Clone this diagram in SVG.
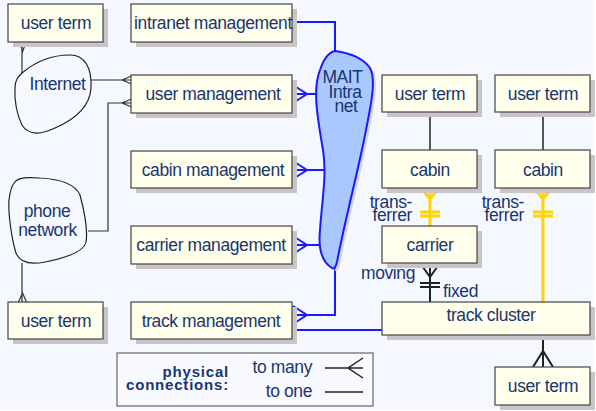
<svg xmlns="http://www.w3.org/2000/svg" width="596" height="411" viewBox="0 0 596 411">
<style>
.bx{fill:#ffffec;stroke:#444;stroke-width:1.2}
.sh{fill:#c8c4c8}
.t{font-family:"Liberation Sans",Arial,sans-serif;font-size:17.5px;letter-spacing:-0.4px;fill:#1a3570}
.m{text-anchor:middle}
.e{text-anchor:end}
.b{font-weight:bold;font-size:15px;letter-spacing:0.8px}
.k{fill:none;stroke:#333;stroke-width:1.2}
.k2{fill:none;stroke:#222;stroke-width:2}
.bl{fill:none;stroke:#1a1aff;stroke-width:2}
.y{fill:none;stroke:#ffd400;stroke-width:3}
.cl{fill:#f5f8ff;stroke:#222;stroke-width:1.2}
</style>
<rect x="0" y="0" width="596" height="411" fill="#ffffff"/>
<rect x="0" y="0" width="593" height="409" fill="#f5f8ff"/>

<g id="connectors">
  <path class="k" d="M22,42 V75 M20,42 L22.5,52 L26,42"/>
  <path class="k" d="M90,80 H131 M131.5,76 L122,80 L131.5,84"/>
  <path class="k" d="M88,231 H108 V103 H131 M131.5,99 L122,103 L131.5,107"/>
  <path class="k" d="M22,263 V302 M18.5,302 L22.5,293 L26.5,302"/>
  <path class="bl" d="M292,22 H335 V51"/>
  <path class="bl" d="M292,94 H316 M293,85 L307,94 L293,103"/>
  <path class="bl" d="M292,170 H325 M293,161 L307,170 L293,179"/>
  <path class="bl" d="M292,245 H320 M293,236 L307,245 L293,254"/>
  <path class="bl" d="M292,315 H335 V268 M293,306 L307,315 L293,324"/>
  <path class="bl" d="M292,330 H382"/>
  <path class="k" style="stroke:#222;stroke-width:1.5" d="M430,112 V150 M543,112 V150"/>
  <path class="y" d="M430,188 V226 M421,188 L430,199 L439,188 M420,212 H440 M420,216 H440"/>
  <path class="y" d="M543,188 V302 M534,188 L543,199 L552,188 M533,212 H553 M533,216 H553"/>
  <path class="k2" d="M430,263 V302 M420,263 L430,277 L440,263 M420,283 H440 M420,287 H440"/>
  <path class="k2" d="M543,335 V367 M533,367 L543,351 L553,367"/>
  <text class="t e" x="412" y="208">trans-</text>
  <text class="t e" x="412" y="221">ferrer</text>
  <text class="t e" x="524" y="208">trans-</text>
  <text class="t e" x="524" y="221">ferrer</text>
  <text class="t e" x="415" y="279">moving</text>
  <text class="t" x="443" y="297">fixed</text>
</g>

<g id="internet">
  <path class="cl" d="M22,73 C35,62 50,55 70,55 C85,55 92,68 91,88 C90,105 78,118 55,128 C40,135 28,135 22,125 C17,115 14,100 15,88 C15,80 18,77 22,73 Z"/>
  <text class="t m" x="57.5" y="90">Internet</text>
</g>
<g id="phone-network">
  <path class="cl" d="M14,183 C18,177 28,177 40,178 C60,179 75,184 80,195 C84,210 88,230 86,242 C84,252 65,258 45,262 C30,265 20,263 16,253 C12,240 8,215 9,200 C10,192 11,187 14,183 Z"/>
  <text class="t m" x="47" y="217">phone</text>
  <text class="t m" x="47.5" y="235.5">network</text>
</g>
<g id="mait-intranet">
  <path fill="#c8c4c8" opacity="0.7" transform="translate(3,3)" d="M335,51 C350,53 363,58 370,68 C377,80 370,110 364,140 C357,175 345,220 337,262 Q335,270 332,268 C322,262 318,250 320,230 C322,200 327,175 323,150 C318,120 312,90 320,70 C324,58 330,52 335,51 Z"/>
  <path fill="#a8c8ff" stroke="#1a1aff" stroke-width="2" d="M335,51 C350,53 363,58 370,68 C377,80 370,110 364,140 C357,175 345,220 337,262 Q335,270 332,268 C322,262 318,250 320,230 C322,200 327,175 323,150 C318,120 312,90 320,70 C324,58 330,52 335,51 Z"/>
  <text class="t m" x="342.5" y="83">MAIT</text>
  <text class="t m" x="345" y="98">Intra</text>
  <text class="t m" x="346" y="112">net</text>
</g>

<g id="user-term-1"><rect class="sh" x="13" y="9" width="95" height="38"/><rect class="bx" x="8" y="4" width="95" height="38"/><text class="t m" x="56" y="29">user term</text></g>
<g id="intranet-management"><rect class="sh" x="136" y="9" width="161" height="38"/><rect class="bx" x="131" y="4" width="161" height="38"/><text class="t m" x="213" y="29">intranet management</text></g>
<g id="user-management"><rect class="sh" x="136" y="80" width="161" height="38"/><rect class="bx" x="131" y="75" width="161" height="38"/><text class="t m" x="213" y="100">user management</text></g>
<g id="cabin-management"><rect class="sh" x="136" y="156" width="161" height="37"/><rect class="bx" x="131" y="151" width="161" height="37"/><text class="t m" x="213" y="175.5">cabin management</text></g>
<g id="carrier-management"><rect class="sh" x="136" y="231" width="161" height="38"/><rect class="bx" x="131" y="226" width="161" height="38"/><text class="t m" x="211" y="251">carrier management</text></g>
<g id="track-management"><rect class="sh" x="136" y="307" width="161" height="37"/><rect class="bx" x="131" y="302" width="161" height="37"/><text class="t m" x="211" y="326.5">track management</text></g>
<g id="user-term-2"><rect class="sh" x="13" y="307" width="95" height="37"/><rect class="bx" x="8" y="302" width="95" height="37"/><text class="t m" x="56" y="326.5">user term</text></g>

<g id="user-term-3"><rect class="sh" x="387" y="80" width="95" height="37"/><rect class="bx" x="382" y="75" width="95" height="37"/><text class="t m" x="430" y="99.5">user term</text></g>
<g id="user-term-4"><rect class="sh" x="500" y="80" width="95" height="37"/><rect class="bx" x="495" y="75" width="95" height="37"/><text class="t m" x="543" y="99.5">user term</text></g>
<g id="cabin-1"><rect class="sh" x="387" y="155" width="95" height="38"/><rect class="bx" x="382" y="150" width="95" height="38"/><text class="t m" x="430" y="175.5">cabin</text></g>
<g id="cabin-2"><rect class="sh" x="500" y="155" width="95" height="38"/><rect class="bx" x="495" y="150" width="95" height="38"/><text class="t m" x="543" y="175.5">cabin</text></g>
<g id="carrier"><rect class="sh" x="387" y="231" width="95" height="37"/><rect class="bx" x="382" y="226" width="95" height="37"/><text class="t m" x="430" y="250.5">carrier</text></g>
<g id="track-cluster"><rect class="sh" x="387" y="307" width="208" height="33"/><rect class="bx" x="382" y="302" width="208" height="33"/><text class="t m" x="491" y="321">track cluster</text></g>
<g id="user-term-5"><rect class="sh" x="500" y="372" width="95" height="38"/><rect class="bx" x="495" y="367" width="95" height="38"/><text class="t m" x="543" y="392">user term</text></g>

<g id="legend">
  <rect x="117" y="353" width="256" height="53" fill="#f8faff" stroke="#666" stroke-width="1.2"/>
  <text class="t e b" x="229" y="377">physical</text>
  <text class="t e b" x="229" y="389.5">connections:</text>
  <text class="t e" x="312" y="373">to many</text>
  <text class="t e" x="312" y="397">to one</text>
  <path class="k" style="stroke:#222;stroke-width:1.5" d="M325,368 H363 M363,358 L348,368 L363,378 M325,392 H363"/>
</g>
</svg>
